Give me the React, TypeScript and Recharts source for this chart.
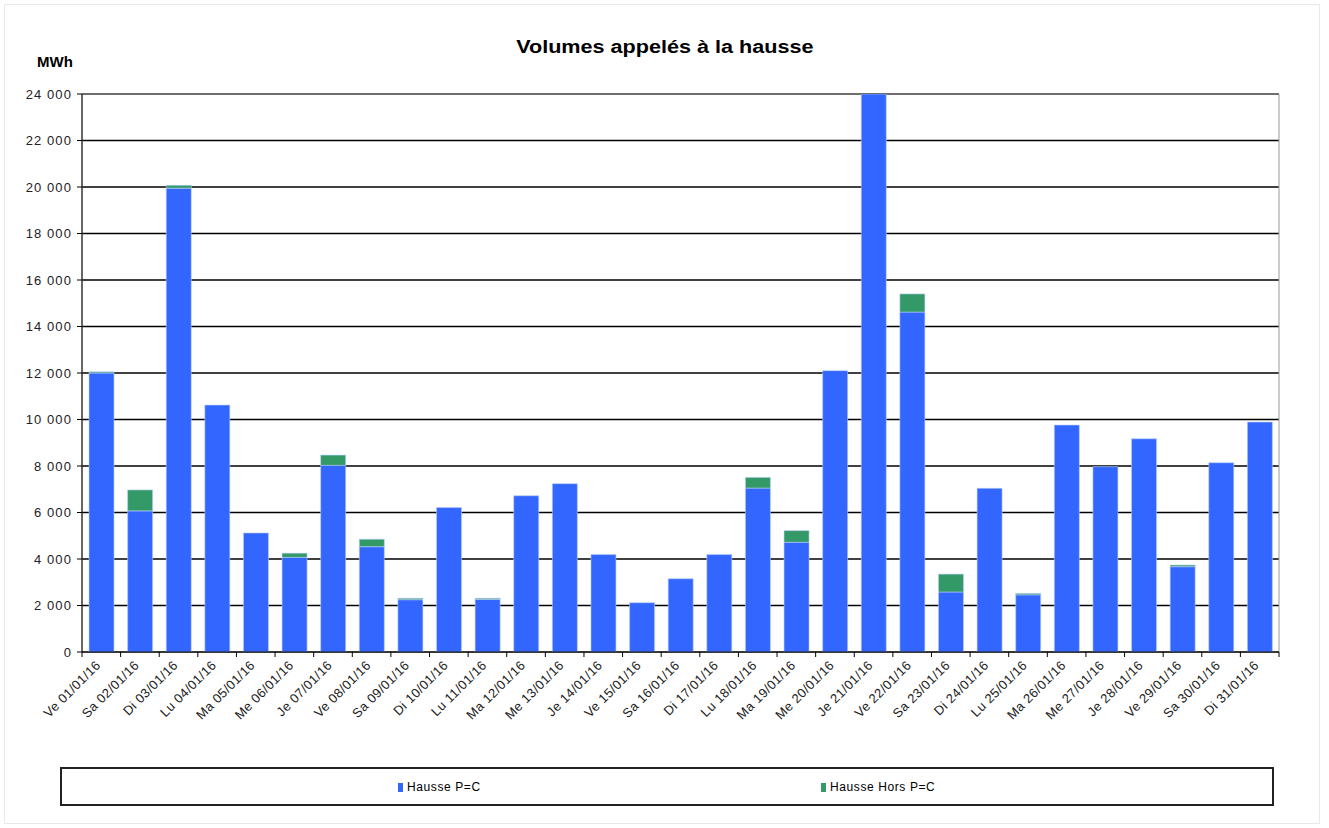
import React from 'react';
import { BarChart, Bar, XAxis, YAxis, CartesianGrid, ReferenceArea } from 'recharts';

// daily labels (Jan 2016)
const days = [
  'Ve 01/01/16', 'Sa 02/01/16', 'Di 03/01/16', 'Lu 04/01/16', 'Ma 05/01/16', 'Me 06/01/16',
  'Je 07/01/16', 'Ve 08/01/16', 'Sa 09/01/16', 'Di 10/01/16', 'Lu 11/01/16', 'Ma 12/01/16',
  'Me 13/01/16', 'Je 14/01/16', 'Ve 15/01/16', 'Sa 16/01/16', 'Di 17/01/16', 'Lu 18/01/16',
  'Ma 19/01/16', 'Me 20/01/16', 'Je 21/01/16', 'Ve 22/01/16', 'Sa 23/01/16', 'Di 24/01/16',
  'Lu 25/01/16', 'Ma 26/01/16', 'Me 27/01/16', 'Je 28/01/16', 'Ve 29/01/16', 'Sa 30/01/16',
  'Di 31/01/16',
];

const haussePC = [
  12000, 6070, 19950, 10620, 5120, 4070, 8030, 4530, 2250, 6210, 2260, 6720, 7240, 4190, 2120,
  3150, 4190, 7050, 4720, 12100, 24000, 14620, 2580, 7040, 2460, 9760, 7970, 9170, 3670, 8140, 9890,
];

const hausseHorsPC = [
  50, 900, 120, 0, 0, 180, 440, 320, 60, 0, 50, 0, 0, 0, 0,
  0, 0, 460, 500, 0, 0, 780, 770, 0, 60, 0, 0, 0, 70, 0, 0,
];

const yTicks = [0, 2000, 4000, 6000, 8000, 10000, 12000, 14000, 16000, 18000, 20000, 22000, 24000];

const seriesNames = ['Hausse P=C', 'Hausse Hors P=C'];
const seriesColors = ['#3366FF', '#339966'];

const data = days.map((d, i) => ({ day: d, pc: haussePC[i], hors: hausseHorsPC[i] }));

const FONT = '"Liberation Sans", Arial, sans-serif';
const fmt = (v: number) => String(v).replace(/\B(?=(\d{3})+(?!\d))/g, ' ');

const PLOT_LEFT = 82;
const PLOT_RIGHT = 1279;
const HALF_BAND = (PLOT_RIGHT - PLOT_LEFT) / days.length / 2;

// Excel style: tick marks between categories, rotated labels under the bar
const DayTick = (props: any) => {
  const { x, y, payload, index } = props;
  return (
    <g>
      {index === 0 && <line x1={x - HALF_BAND} y1={y - 8} x2={x - HALF_BAND} y2={y - 3} stroke="#000" />}
      <line x1={x + HALF_BAND} y1={y - 8} x2={x + HALF_BAND} y2={y - 3} stroke="#000" />
      <text
        x={x}
        y={y + 6}
        textAnchor="end"
        fontSize={13}
        letterSpacing={0.4}
        fontFamily={FONT}
        fill="#222"
        transform={`rotate(-45 ${x} ${y + 6})`}
      >
        {payload.value}
      </text>
    </g>
  );
};

const ValueTick = (props: any) => {
  const { x, y, payload } = props;
  return (
    <text x={x - 3} y={y} dy={4.5} textAnchor="end" fontSize={13} letterSpacing={1.1} fontFamily={FONT} fill="#222">
      {fmt(payload.value)}
    </text>
  );
};

export default function App() {
  return (
    <div style={{ position: 'absolute', left: 0, top: 0, width: 1329, height: 828, background: '#fff' }}>
      <div
        style={{
          position: 'absolute', left: 4, top: 4, width: 1316, height: 820,
          border: '1px solid #e8e8e8', boxSizing: 'border-box',
        }}
      />
      <div
        style={{
          position: 'absolute', left: 0, width: 1329, top: 37, textAlign: 'center',
          fontFamily: FONT, fontWeight: 'bold', fontSize: 18, color: '#000',
          transform: 'scaleX(1.2)', transformOrigin: '663px 0',
        }}
      >
        Volumes appelés à la hausse
      </div>
      <div
        style={{
          position: 'absolute', left: 37, top: 53, fontFamily: FONT, fontWeight: 'bold',
          fontSize: 15, color: '#000',
        }}
      >
        MWh
      </div>
      <div style={{ position: 'absolute', left: 0, top: 0 }}>
        <BarChart
          width={1329}
          height={828}
          data={data}
          margin={{ top: 94, right: 1329 - PLOT_RIGHT, bottom: 86, left: 0 }}
          barSize={25}
        >
          <ReferenceArea y1={0} y2={24000} fill="none" stroke="#9a9a9a" strokeWidth={1} />
          <CartesianGrid vertical={false} stroke="#000" strokeWidth={1.3} />
          <XAxis
            dataKey="day"
            interval={0}
            height={90}
            axisLine={{ stroke: '#000' }}
            tickLine={false}
            tick={<DayTick />}
          />
          <YAxis
            width={PLOT_LEFT}
            domain={[0, 24000]}
            ticks={yTicks}
            allowDataOverflow
            axisLine={{ stroke: '#000' }}
            tickLine={{ stroke: '#000' }}
            tickSize={5}
            tick={<ValueTick />}
          />
          <Bar dataKey="pc" stackId="a" fill={seriesColors[0]} stroke="#b9ccff" strokeWidth={0.6} isAnimationActive={false} />
          <Bar dataKey="hors" stackId="a" fill={seriesColors[1]} stroke="#b9ccff" strokeWidth={0.6} isAnimationActive={false} />
        </BarChart>
      </div>
      <div
        style={{
          position: 'absolute', left: 60, top: 767, width: 1214, height: 39,
          border: '2px solid #222', boxSizing: 'border-box', fontFamily: FONT, fontSize: 12,
          letterSpacing: 0.6,
        }}
      >
        {seriesNames.map((name, i) => (
          <div
            key={name}
            style={{
              position: 'absolute', left: i === 0 ? 336 : 759, top: 11,
              display: 'flex', alignItems: 'center', color: '#000',
            }}
          >
            <span style={{ width: 5, height: 9, background: seriesColors[i], marginRight: 4 }} />
            {name}
          </div>
        ))}
      </div>
    </div>
  );
}
